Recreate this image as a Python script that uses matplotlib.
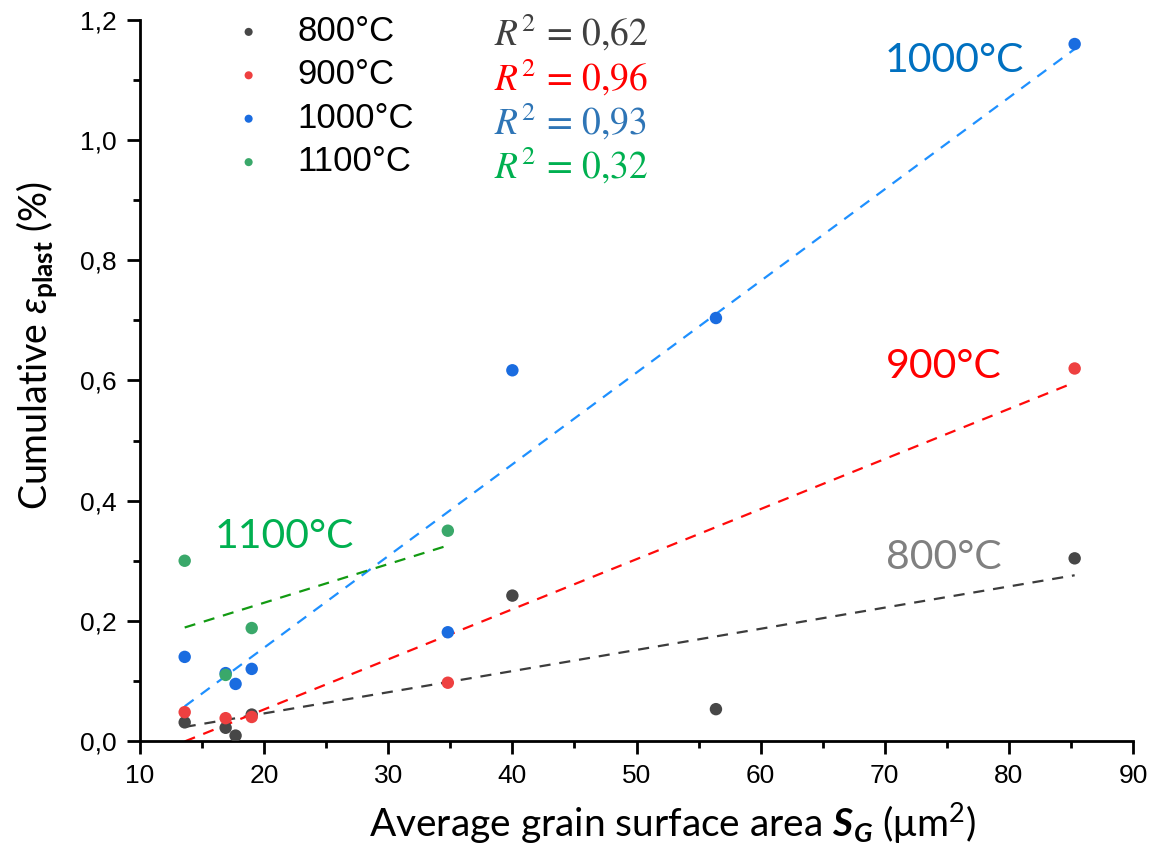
import numpy as np
import matplotlib
matplotlib.use('Agg')
import matplotlib.pyplot as plt
from matplotlib.ticker import MultipleLocator, FuncFormatter

plt.rcParams['font.family'] = ['Liberation Sans', 'DejaVu Sans']
plt.rcParams['mathtext.fontset'] = 'custom'
plt.rcParams['mathtext.rm'] = 'Lato'
plt.rcParams['mathtext.it'] = 'Lato:italic'
plt.rcParams['mathtext.bf'] = 'Lato:bold'
plt.rcParams['mathtext.bfit'] = 'Lato:italic:bold'

# grain surface area (um^2) and cumulative plastic strain (%) per temperature
x_800 = [13.6, 16.9, 17.7, 19.0, 40.0, 56.4, 85.3]
y_800 = [0.031, 0.022, 0.009, 0.044, 0.242, 0.053, 0.304]
x_900 = [13.6, 16.9, 19.0, 34.8, 85.3]
y_900 = [0.048, 0.038, 0.040, 0.097, 0.620]
x_1000 = [13.6, 16.9, 17.7, 19.0, 34.8, 40.0, 56.4, 85.3]
y_1000 = [0.140, 0.113, 0.095, 0.120, 0.181, 0.617, 0.704, 1.160]
x_1100 = [13.6, 16.9, 19.0, 34.8]
y_1100 = [0.300, 0.110, 0.188, 0.350]

labels = ['800°C', '900°C', '1000°C', '1100°C']
r2_values = ['0,62', '0,96', '0,93', '0,32']

series = [(x_800, y_800), (x_900, y_900), (x_1000, y_1000), (x_1100, y_1100)]
point_colors = ['#474747', '#ee4040', '#1a6ce0', '#3aa86a']
line_colors = ['#3c3c3c', '#ff0a0a', '#1e90ff', '#129a12']
r2_colors = ['#404040', '#ff0000', '#2e75b6', '#00b050']
tag_colors = ['#808080', '#ff0000', '#0070c0', '#00b050']
# where the temperature tags sit (data coords, left / centre)
tag_pos = [(70.1, 0.305), (70.1, 0.624), (70.0, 1.133), (16.0, 0.34)]

fig = plt.figure(figsize=(11.72, 8.52), dpi=100)
ax = fig.add_axes([140 / 1172, 1 - 741 / 852, 993 / 1172, 721 / 852])

# linear fits
for (xs, ys), lc in zip(series, line_colors):
    xs = np.array(xs)
    k, b = np.polyfit(xs, ys, 1)
    xx = np.array([xs.min(), xs.max()])
    ax.plot(xx, k * xx + b, ls=(0, (5, 4)), lw=1.6, color=lc, zorder=2)

handles = []
for (xs, ys), pc, lab in zip(series, point_colors, labels):
    h = ax.scatter(xs, ys, s=80, color=pc, edgecolors='none', zorder=3, label=lab)
    handles.append(h)

ax.set_xlim(10, 90)
ax.set_ylim(0, 1.2)
ax.xaxis.set_major_locator(MultipleLocator(10))
ax.xaxis.set_minor_locator(MultipleLocator(5))
ax.yaxis.set_major_locator(MultipleLocator(0.2))
ax.yaxis.set_minor_locator(MultipleLocator(0.1))
ax.yaxis.set_major_formatter(FuncFormatter(lambda v, p: f'{v:.1f}'.replace('.', ',')))
ax.xaxis.set_major_formatter(FuncFormatter(lambda v, p: f'{v:.0f}'))

for s in ['top', 'right']:
    ax.spines[s].set_visible(False)
for s in ['left', 'bottom']:
    ax.spines[s].set_linewidth(2.0)
ax.tick_params(which='major', direction='out', length=9.5, width=2.0, labelsize=19, pad=7)
ax.tick_params(which='minor', direction='out', length=5, width=2.0)

ax.set_xlabel(r'Average grain surface area $\mathbfit{S}_{\mathbfit{G}}$ (μm$^{2}$)',
              family='Lato', fontsize=28)
ax.set_ylabel(r'Cumulative $\varepsilon_{\mathbf{plast}}$ (%)',
              family='Lato', fontsize=27)
ax.xaxis.set_label_coords(0.536, -0.082)
ax.yaxis.set_label_coords(-0.082, 0.548)

leg = ax.legend(handles=handles, loc='upper left', bbox_to_anchor=(233 / 1172, 1 - 15 / 852),
                bbox_transform=fig.transFigure, frameon=False, fontsize=25,
                handlelength=0.9, handletextpad=0.95, labelspacing=0.3,
                borderpad=0, borderaxespad=0, markerscale=0.65, scatterpoints=1)

# R^2 annotations
r2_y = [1.178, 1.103, 1.03, 0.958]
for val, c, yy in zip(r2_values, r2_colors, r2_y):
    ax.text(38.5, yy, rf'$R^2\,=\,{val.replace(",", "{,}")}$', color=c, fontsize=27,
            math_fontfamily='stix', va='center', ha='left')

for lab, c, (tx, ty) in zip(labels, tag_colors, tag_pos):
    ax.text(tx, ty, lab, color=c, fontsize=29.5, family='Lato', va='center', ha='left')

fig.savefig('out.png', dpi=100)
